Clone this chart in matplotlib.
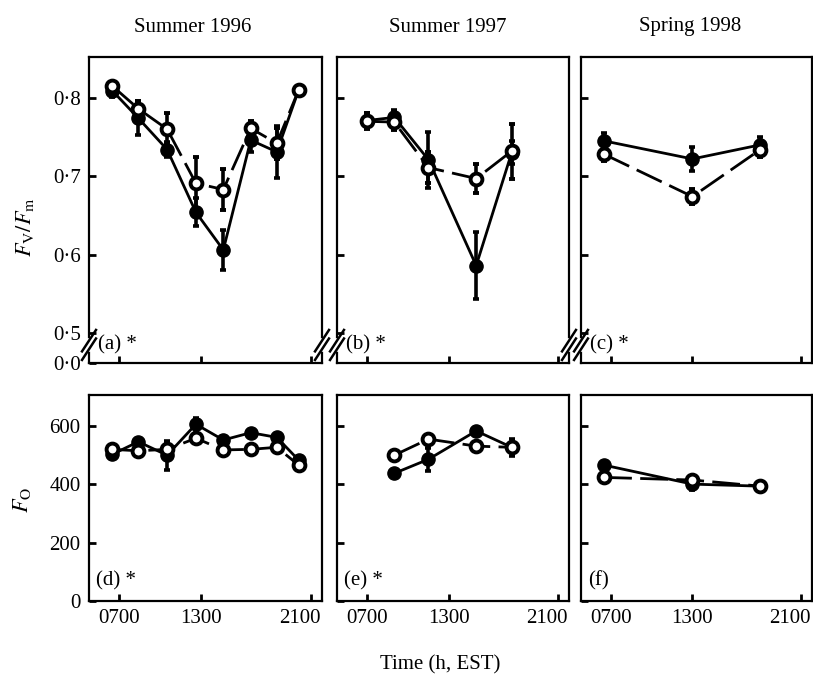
import numpy as np
import matplotlib
matplotlib.use("Agg")
import matplotlib.pyplot as plt
import matplotlib.transforms as mtransforms

plt.rcParams['font.family'] = ['Liberation Serif', 'DejaVu Serif']
plt.rcParams['mathtext.fontset'] = 'stix'

# ---- data (hours of day) ----
# Summer 1996
t96 = [6.5, 8.4, 10.5, 12.6, 14.6, 16.6, 18.5, 20.1]
fvfm96_open = [0.815, 0.786, 0.760, 0.691, 0.683, 0.761, 0.742, 0.810]
fvfm96_open_err = [0.005, 0.010, 0.020, 0.034, 0.026, 0.010, 0.020, 0.005]
fvfm96_fill = [0.809, 0.774, 0.734, 0.654, 0.606, 0.746, 0.731, 0.810]
fvfm96_fill_err = [0.008, 0.022, 0.010, 0.018, 0.025, 0.015, 0.033, 0.005]
fo96_open = [519, 514, 519, 557, 517, 519, 526, 465]
fo96_open_err = [15, 10, 20, 15, 10, 15, 10, 10]
fo96_fill = [502, 545, 499, 605, 551, 576, 560, 482]
fo96_fill_err = [15, 10, 50, 20, 15, 10, 10, 15]

# Summer 1997
t97 = [7.0, 9.0, 11.5, 15.0, 17.6]
fvfm97_open = [0.770, 0.769, 0.711, 0.697, 0.732]
fvfm97_open_err = [0.010, 0.010, 0.020, 0.019, 0.035]
fvfm97_fill = [0.771, 0.775, 0.721, 0.586, 0.730]
fvfm97_fill_err = [0.010, 0.010, 0.036, 0.043, 0.015]
t97_fo = [9.0, 11.5, 15.0, 17.6]
fo97_open = [499, 554, 530, 526]
fo97_open_err = [10, 10, 10, 10]
fo97_fill = [437, 485, 582, 526]
fo97_fill_err = [10, 40, 15, 30]

# Spring 1998
t98 = [6.5, 13.0, 18.0]
fvfm98_open = [0.728, 0.674, 0.734]
fvfm98_open_err = [0.008, 0.010, 0.010]
fvfm98_fill = [0.745, 0.722, 0.740]
fvfm98_fill_err = [0.010, 0.015, 0.010]
fo98_open = [423, 414, 393]
fo98_open_err = [10, 10, 10]
fo98_fill = [465, 400, 393]
fo98_fill_err = [10, 20, 15]

titles = ['Summer 1996', 'Summer 1997', 'Spring 1998']
panel_top = ['(a) *', '(b) *', '(c) *']
panel_bot = ['(d) *', '(e) *', '(f)']

top_sets = [
    (t96, fvfm96_fill, fvfm96_fill_err, fvfm96_open, fvfm96_open_err),
    (t97, fvfm97_fill, fvfm97_fill_err, fvfm97_open, fvfm97_open_err),
    (t98, fvfm98_fill, fvfm98_fill_err, fvfm98_open, fvfm98_open_err),
]
bot_sets = [
    (t96, fo96_fill, fo96_fill_err, fo96_open, fo96_open_err),
    (t97_fo, fo97_fill, fo97_fill_err, fo97_open, fo97_open_err),
    (t98, fo98_fill, fo98_fill_err, fo98_open, fo98_open_err),
]

W, H = 813, 675
fig = plt.figure(figsize=(W / 100, H / 100), dpi=100)

lefts = [89, 337, 581]
widths = [233, 232, 231]
FS = 15
LW = 2.0

YMIN_TOP = 0.4618
YMAX_TOP = 0.852


def draw(ax, t, yf, ef, yo, eo):
    ax.errorbar(t, yf, yerr=ef, color='black', lw=LW, marker='o', ms=9.5,
                mfc='black', mec='black', elinewidth=2.6, capsize=2.5,
                capthick=2.6, zorder=3)
    line = ax.errorbar(t, yo, yerr=eo, color='black', lw=LW, marker='o', ms=8.5,
                       mfc='white', mec='black', mew=2.8, elinewidth=2.6,
                       capsize=2.5, capthick=2.6, zorder=4)
    line[0].set_dashes([10, 3])


def style(ax):
    for s in ax.spines.values():
        s.set_linewidth(1.6)
    ax.tick_params(direction='in', length=5, width=2, labelsize=FS, pad=6)
    ax.set_xlim(4.8, 21.8)
    ax.set_xticks([7, 13, 21])


def brk(ax, x):
    # broken-axis marks on a spine (axes coords)
    yc = 0.059
    dx, dy = 0.03, 0.035
    ax.plot([x, x], [yc - 0.014, yc + 0.014], transform=ax.transAxes,
            color='white', lw=4, clip_on=False, zorder=10)
    for off in (-0.014, 0.014):
        ax.plot([x - dx, x + dx], [yc + off - dy, yc + off + dy],
                transform=ax.transAxes, color='black', lw=1.8,
                clip_on=False, zorder=11)


for i in range(3):
    ax = fig.add_axes([lefts[i] / W, 1 - 363 / H, widths[i] / W, 306 / H])
    draw(ax, *top_sets[i])
    style(ax)
    ax.set_ylim(YMIN_TOP, YMAX_TOP)
    ax.set_xticklabels([])
    if i == 0:
        ax.set_yticks([YMIN_TOP, 0.5, 0.6, 0.7, 0.8])
        ax.set_yticklabels(['0·0', '0·5', '0·6', '0·7', '0·8'])
    else:
        ax.set_yticks([0.5, 0.6, 0.7, 0.8])
        ax.set_yticklabels([])
    brk(ax, 0.0)
    if i < 2:
        brk(ax, 1.0)
    ax.text(0.04, 0.058, panel_top[i], transform=ax.transAxes, fontsize=FS,
            va='center', ha='left')

    axb = fig.add_axes([lefts[i] / W, 1 - 601 / H, widths[i] / W, 206 / H])
    draw(axb, *bot_sets[i])
    style(axb)
    axb.set_ylim(0, 705)
    axb.set_yticks([0, 200, 400, 600])
    axb.set_xticklabels(['0700', '1300', '2100'])
    # the last label sits a little left of its tick
    shift = mtransforms.ScaledTranslation(-11 / 100, 0, fig.dpi_scale_trans)
    lab = axb.get_xticklabels()[-1]
    lab.set_transform(lab.get_transform() + shift)
    if i > 0:
        axb.set_yticklabels([])
    axb.text(0.03, 0.1, panel_bot[i], transform=axb.transAxes, fontsize=FS,
             va='center', ha='left')

# column titles
for cx, txt in zip([193, 448, 690], titles):
    fig.text(cx / W, 1 - 27 / H, txt, fontsize=FS, ha='center', va='center')

fig.text(25 / W, 1 - 227 / H, r'$F_{\mathrm{V}}/F_{\mathrm{m}}$', fontsize=FS + 1,
         rotation=90, ha='center', va='center')
fig.text(22 / W, 1 - 500 / H, r'$F_{\mathrm{O}}$', fontsize=FS + 1,
         rotation=90, ha='center', va='center')
fig.text(440 / W, 1 - 665 / H, 'Time (h, EST)', fontsize=FS,
         ha='center', va='center')

fig.savefig('out.png', dpi=100)
